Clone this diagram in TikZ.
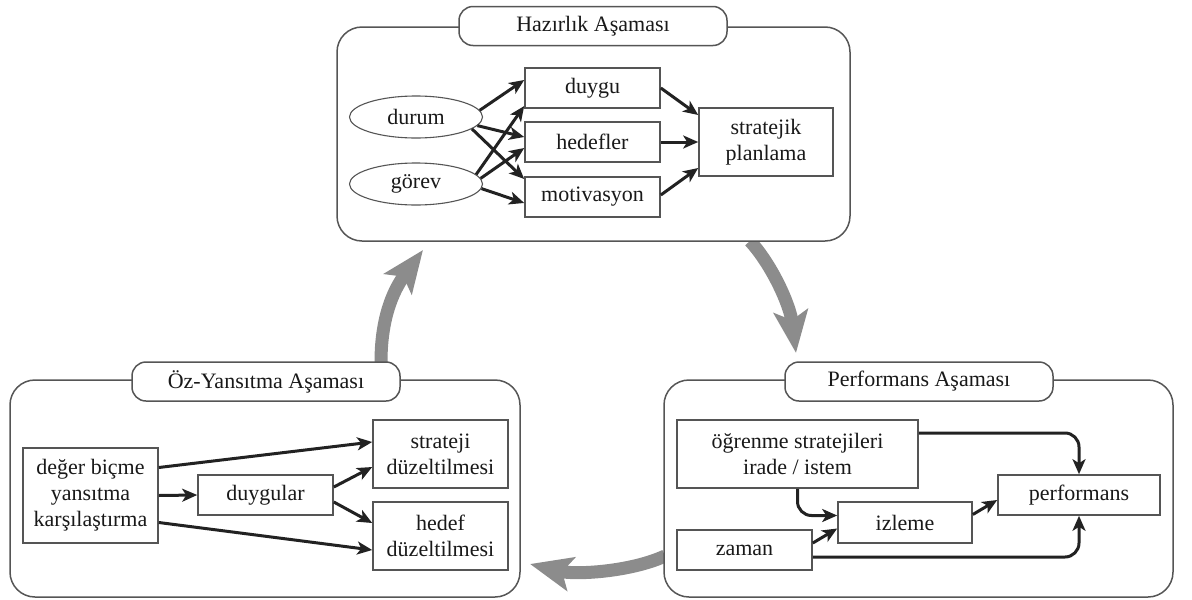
\documentclass[tikz,border=0pt]{standalone}
\usepackage{fontspec}
\setmainfont{Liberation Serif}
\usetikzlibrary{arrows.meta,shapes.geometric,calc}
\definecolor{inkline}{HTML}{222222}
\definecolor{framecol}{HTML}{555555}
\definecolor{flowgray}{HTML}{8C8C8C}
\begin{document}
\begin{tikzpicture}[x=1pt,y=-1pt,
  every node/.style={font=\fontsize{22}{26}\selectfont, align=center, inner sep=0pt, text=black!90},
  frame/.style={draw=framecol, line width=1.5pt, rounded corners=25pt, fill=white},
  phase/.style={draw=framecol, line width=1.5pt, rounded corners=14pt, fill=white,
                minimum width=268pt, minimum height=39pt},
  box/.style={draw=framecol, line width=1.6pt, fill=white, minimum width=135pt, minimum height=40pt},
  oval/.style={ellipse, draw=framecol, line width=1.1pt, minimum width=133pt, minimum height=42pt},
  arr/.style={draw=inkline, line width=3pt, -{Stealth[length=15pt,width=13pt,inset=4pt]}},
  flowarrow/.style={draw=flowgray, line width=13pt, -{Stealth[length=42pt,width=34pt,inset=9pt]}},
]
\useasboundingbox (0,0) rectangle (1192,600);

% cycle arrows between the three phases (drawn first, frames sit on top)
\coordinate (c1a) at (381,362);
\coordinate (c1b) at (423,250);
\coordinate (c2a) at (750,241);
\coordinate (c2b) at (796,353);
\coordinate (c3a) at (665,556);
\coordinate (c3b) at (530,564);
\draw[flowarrow] (c1a) .. controls (381,320) and (392,292) .. (c1b);
\draw[flowarrow] (c2a) .. controls (772,265) and (790,305) .. (c2b);
\draw[flowarrow] (c3a) .. controls (630,572) and (575,575) .. (c3b);

% ---------- preparation phase ----------
\node[frame, minimum width=513pt, minimum height=214pt] (prep) at (593.5,134) {};
\node[phase] (prepT) at (593,26) {Hazırlık Aşaması};
\node[oval] (durum) at (416,117) {durum};
\node[oval] (gorev) at (416,184) {görev};
\node[box] (duygu) at (592.5,88) {duygu};
\node[box] (hedef) at (592.5,142) {hedefler};
\node[box] (motiv) at (592.5,197) {motivasyon};
\node[box, minimum width=134pt, minimum height=68pt] (strat) at (766,142) {stratejik\\planlama};

\draw[arr] (durum.6) -- ($(duygu.west)+(0,-8)$);
\draw[arr] (durum.-8) -- ($(hedef.west)+(0,-5)$);
\draw[arr] (durum.-12) -- ($(motiv.west)+(0,-18)$);
\draw[arr] (gorev.9) -- ($(duygu.west)+(0,18)$);
\draw[arr] (gorev.5) -- ($(hedef.west)+(0,6)$);
\draw[arr] (gorev.-4) -- ($(motiv.west)+(0,6)$);
\draw[arr] (duygu.east) -- ($(strat.west)+(0,-27)$);
\draw[arr] (hedef.east) -- (strat.west);
\draw[arr] ($(motiv.east)+(0,-2)$) -- ($(strat.west)+(0,26)$);

% ---------- self-reflection phase ----------
\node[frame, minimum width=510pt, minimum height=217pt] (refl) at (265,488.5) {};
\node[phase] (reflT) at (266,381.5) {Öz-Yansıtma Aşaması};
\node[box, minimum height=95pt] (deger) at (90.5,495.5) {değer biçme\\yansıtma\\karşılaştırma};
\node[box] (duyg) at (265.5,495) {duygular};
\node[box, minimum height=68pt] (sdz) at (440.5,454) {strateji\\düzeltilmesi};
\node[box, minimum height=68pt] (hdz) at (440.5,536) {hedef\\düzeltilmesi};

\draw[arr] ($(deger.east)+(0,-28)$) -- ($(sdz.west)+(0,-12)$);
\draw[arr] (deger.east) -- (duyg.west);
\draw[arr] ($(deger.east)+(0,27)$) -- ($(hdz.west)+(0,14)$);
\draw[arr] ($(duyg.east)+(0,-8)$) -- ($(sdz.west)+(0,13)$);
\draw[arr] ($(duyg.east)+(0,7)$) -- ($(hdz.west)+(0,-13)$);

% ---------- performance phase ----------
\node[frame, minimum width=509pt, minimum height=217pt] (perfF) at (918.5,488.5) {};
\node[phase] (perfT) at (919,381.5) {Performans Aşaması};
\node[box, minimum width=241pt, minimum height=68pt] (ogr) at (797.5,454) {öğrenme stratejileri\\irade / istem};
\node[box, minimum width=162pt] (perf) at (1079,495) {performans};
\node[box, minimum width=134pt, minimum height=41pt] (izl) at (905,522.5) {izleme};
\node[box] (zam) at (744.5,550) {zaman};

\draw[arr, rounded corners=14pt] ($(ogr.east)+(0,-21)$) -| (perf.north);
\draw[arr, rounded corners=14pt] (ogr.south) |- ($(izl.west)+(0,-7)$);
\draw[arr] ($(zam.east)+(0,-7)$) -- ($(izl.west)+(0,6)$);
\draw[arr] ($(izl.east)+(0,-8)$) -- ($(perf.west)+(0,5)$);
\draw[arr, rounded corners=14pt] ($(zam.east)+(0,7)$) -| (perf.south);
\end{tikzpicture}
\end{document}
